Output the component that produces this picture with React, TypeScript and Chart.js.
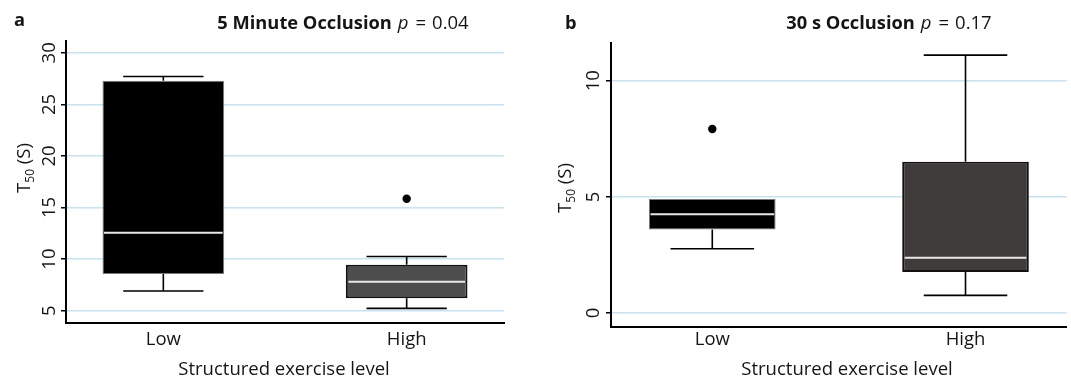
import { useEffect, useRef } from 'react';
import { Chart, registerables } from 'chart.js';

Chart.register(...registerables);

const FAM = "'Open Sans', 'Noto Sans', sans-serif";
const INK = '#151515';

// ---- data ----
const categories = ['Low', 'High'];
const positions = [1, 2];

// Panel a: 5 Minute Occlusion
const occ5Q1 = [8.55, 6.2];
const occ5Q3 = [27.3, 9.45];
const occ5Median = [12.55, 7.8];
const occ5WhiskerLow = [6.9, 5.22];
const occ5WhiskerHigh = [27.7, 10.25];
const occ5OutlierPos = [2];
const occ5OutlierVal = [15.85];
const occ5Ticks = [5, 10, 15, 20, 25, 30];

// Panel b: 30 s Occlusion
const occ30Q1 = [3.6, 1.77];
const occ30Q3 = [4.91, 6.51];
const occ30Median = [4.25, 2.38];
const occ30WhiskerLow = [2.77, 0.76];
const occ30WhiskerHigh = [4.91, 11.1];
const occ30OutlierPos = [1];
const occ30OutlierVal = [7.92];
const occ30Ticks = [0, 5, 10];

const X_TITLE = 'Structured exercise level';

const CAP_HALF = 0.165;
const BOX_HALF = 0.25;
const FS = 18.5;

type Panel = {
  letter: string;
  titleBold: string;
  pValue: string;
  q1: number[];
  q3: number[];
  median: number[];
  wLow: number[];
  wHigh: number[];
  outPos: number[];
  outVal: number[];
  ticks: number[];
  fills: string[];
  borders: string[];
  borderWidths: number[];
  yMin: number;
  yMax: number;
  canvasLeft: number;
  canvasWidth: number;
  padTop: number;
  padRight: number;
  yAxisWidth: number;
  xAxisHeight: number;
  xTickPad: number;
  yTickPad: number;
  titleCx: number;
  titleBase: number;
  letterX: number;
  letterBase: number;
  yTitleX: number;
  yTitleY: number;
  xTitleCx: number;
  xTitleBase: number;
};

const panels: Panel[] = [
  {
    letter: 'a',
    titleBold: '5 Minute Occlusion',
    pValue: '0.04',
    q1: occ5Q1,
    q3: occ5Q3,
    median: occ5Median,
    wLow: occ5WhiskerLow,
    wHigh: occ5WhiskerHigh,
    outPos: occ5OutlierPos,
    outVal: occ5OutlierVal,
    ticks: occ5Ticks,
    fills: ['#000000', '#4d4d4d'],
    borders: ['#7a7a7a', '#111111'],
    borderWidths: [1, 2],
    yMin: 3.8,
    yMax: 31.15,
    canvasLeft: 0,
    canvasWidth: 540,
    padTop: 41,
    padRight: 36,
    yAxisWidth: 66,
    xAxisHeight: 55,
    xTickPad: 5.5,
    yTickPad: 1,
    titleCx: 343,
    titleBase: 29,
    letterX: 14,
    letterBase: 26,
    yTitleX: 29.5,
    yTitleY: 168,
    xTitleCx: 284,
    xTitleBase: 375,
  },
  {
    letter: 'b',
    titleBold: '30 s Occlusion',
    pValue: '0.17',
    q1: occ30Q1,
    q3: occ30Q3,
    median: occ30Median,
    wLow: occ30WhiskerLow,
    wHigh: occ30WhiskerHigh,
    outPos: occ30OutlierPos,
    outVal: occ30OutlierVal,
    ticks: occ30Ticks,
    fills: ['#000000', '#3e3b3a'],
    borders: ['#7a7a7a', '#111111'],
    borderWidths: [1, 2],
    yMin: -0.6,
    yMax: 11.62,
    canvasLeft: 540,
    canvasWidth: 531,
    padTop: 43,
    padRight: 4,
    yAxisWidth: 71,
    xAxisHeight: 51,
    xTickPad: 1.5,
    yTickPad: 2,
    titleCx: 349,
    titleBase: 28.5,
    letterX: 25,
    letterBase: 29,
    yTitleX: 30.7,
    yTitleY: 188,
    xTitleCx: 307,
    xTitleBase: 375,
  },
];

function drawTitle(ctx: CanvasRenderingContext2D, p: Panel) {
  ctx.save();
  ctx.fillStyle = INK;
  ctx.textBaseline = 'alphabetic';
  ctx.textAlign = 'left';
  const fb = `bold 18.3px ${FAM}`;
  const fi = `italic 18.5px ${FAM}`;
  const fr = `18.5px ${FAM}`;
  ctx.font = fb;
  const wb = ctx.measureText(p.titleBold).width;
  ctx.font = fi;
  const wp = ctx.measureText('p').width;
  ctx.font = fr;
  const we = ctx.measureText('=').width;
  const wn = ctx.measureText(p.pValue).width;
  const g1 = 6, g2 = 7, g3 = 6;
  const total = wb + g1 + wp + g2 + we + g3 + wn;
  let x = p.titleCx - total / 2;
  ctx.font = fb;
  ctx.fillText(p.titleBold, x, p.titleBase);
  x += wb + g1;
  ctx.font = fi;
  ctx.fillText('p', x, p.titleBase);
  x += wp + g2;
  ctx.font = fr;
  ctx.fillText('=', x, p.titleBase);
  x += we + g3;
  ctx.fillText(p.pValue, x, p.titleBase);
  ctx.font = fb;
  ctx.fillText(p.letter, p.letterX, p.letterBase);
  // x-axis title
  ctx.font = `${FS}px ${FAM}`;
  ctx.textAlign = 'center';
  ctx.fillText(X_TITLE, p.xTitleCx, p.xTitleBase);
  ctx.restore();
}

function drawYTitle(ctx: CanvasRenderingContext2D, p: Panel) {
  ctx.save();
  ctx.fillStyle = INK;
  ctx.translate(p.yTitleX, p.yTitleY);
  ctx.rotate(-Math.PI / 2);
  ctx.textBaseline = 'alphabetic';
  ctx.textAlign = 'left';
  const fm = `${FS}px ${FAM}`;
  const fs = `12px ${FAM}`;
  ctx.font = fm;
  const wT = ctx.measureText('T').width;
  const wS = ctx.measureText(' (S)').width;
  ctx.font = fs;
  const w50 = ctx.measureText('50').width;
  let x = -(wT + w50 + wS) / 2;
  ctx.font = fm;
  ctx.fillText('T', x, 0);
  x += wT;
  ctx.font = fs;
  ctx.fillText('50', x, 4);
  x += w50;
  ctx.font = fm;
  ctx.fillText(' (S)', x, 0);
  ctx.restore();
}

function makePlugin(p: Panel) {
  return {
    id: 'boxExtras',
    beforeDatasetsDraw(chart: any) {
      const ctx: CanvasRenderingContext2D = chart.ctx;
      const xs = chart.scales.x;
      const ys = chart.scales.y;
      ctx.save();
      ctx.strokeStyle = '#000';
      ctx.lineWidth = 1.6;
      const seg = (cx: number, half: number, from: number, to: number) => {
        if (from === to) return;
        const y0 = ys.getPixelForValue(from);
        const y1 = ys.getPixelForValue(to);
        ctx.beginPath();
        ctx.moveTo(cx, y0);
        ctx.lineTo(cx, y1);
        ctx.moveTo(cx - half, y1);
        ctx.lineTo(cx + half, y1);
        ctx.stroke();
      };
      p.q1.forEach((_, i) => {
        const cx = xs.getPixelForValue(positions[i]);
        const half = xs.getPixelForValue(positions[i] + CAP_HALF) - cx;
        seg(cx, half, p.q3[i], p.wHigh[i]);
        seg(cx, half, p.q1[i], p.wLow[i]);
      });
      ctx.restore();
    },
    afterDatasetsDraw(chart: any) {
      const ctx: CanvasRenderingContext2D = chart.ctx;
      const xs = chart.scales.x;
      const ys = chart.scales.y;
      ctx.save();
      ctx.strokeStyle = '#e8e8e8';
      ctx.lineWidth = 2;
      p.median.forEach((m, i) => {
        const cx = xs.getPixelForValue(positions[i]);
        const half = xs.getPixelForValue(positions[i] + BOX_HALF) - cx;
        const inset = p.borderWidths[i] + 0.5;
        const y = ys.getPixelForValue(m);
        ctx.beginPath();
        ctx.moveTo(cx - half + inset, y);
        ctx.lineTo(cx + half - inset, y);
        ctx.stroke();
      });
      ctx.restore();
    },
    afterDraw(chart: any) {
      const ctx: CanvasRenderingContext2D = chart.ctx;
      drawTitle(ctx, p);
      drawYTitle(ctx, p);
    },
  };
}

function BoxPanel({ p }: { p: Panel }) {
  const ref = useRef<HTMLCanvasElement | null>(null);
  useEffect(() => {
    if (!ref.current) return;
    const chart = new Chart(ref.current, {
      type: 'bar',
      data: {
        datasets: [
          {
            type: 'bar',
            data: positions.map((x, i) => ({ x, y: [p.q1[i], p.q3[i]] })) as any,
            backgroundColor: p.fills,
            borderColor: p.borders,
            borderWidth: p.borderWidths,
            borderSkipped: false,
            inflateAmount: 0,
            barPercentage: 0.5,
            categoryPercentage: 1,
            order: 2,
          } as any,
          {
            type: 'scatter',
            data: p.outPos.map((x, i) => ({ x, y: p.outVal[i] })),
            pointRadius: 4.2,
            pointBackgroundColor: '#000',
            pointBorderWidth: 0,
            backgroundColor: '#000',
            showLine: false,
            order: 1,
          } as any,
        ],
      },
      options: {
        animation: false,
        responsive: false,
        events: [],
        layout: { padding: { top: p.padTop, right: p.padRight, bottom: 0, left: 0 } },
        plugins: { legend: { display: false }, tooltip: { enabled: false } },
        scales: {
          x: {
            type: 'linear',
            offset: false,
            bounds: 'data',
            min: 0.6,
            max: 2.4,
            afterBuildTicks: (axis: any) => {
              axis.ticks = positions.map((v) => ({ value: v }));
            },
            afterFit: (axis: any) => {
              axis.height = p.xAxisHeight;
            },
            grid: { display: false, drawTicks: false, offset: false },
            border: { display: true, color: '#000', width: 2 },
            ticks: {
              padding: p.xTickPad,
              color: INK,
              font: { family: FAM, size: FS },
              maxRotation: 0,
              callback: (v: any) => categories[Math.round(Number(v)) - 1] ?? '',
            },
            title: { display: false },
          },
          y: {
            type: 'linear',
            min: p.yMin,
            max: p.yMax,
            afterBuildTicks: (axis: any) => {
              axis.ticks = p.ticks.map((v) => ({ value: v }));
            },
            afterFit: (axis: any) => {
              axis.width = p.yAxisWidth;
            },
            grid: {
              color: '#c4e3f3',
              lineWidth: 1.5,
              tickColor: '#000',
              tickLength: 5,
              tickWidth: 1.5,
              drawTicks: true,
            },
            border: { display: true, color: '#000', width: 2 },
            ticks: {
              padding: p.yTickPad,
              color: INK,
              font: { family: FAM, size: FS },
              minRotation: 90,
              maxRotation: 90,
              crossAlign: 'center',
              autoSkip: false,
              callback: (v: any) => String(v),
            },
          },
        },
      } as any,
      plugins: [makePlugin(p)],
    });
    return () => chart.destroy();
  }, [p]);
  return (
    <canvas
      ref={ref}
      width={p.canvasWidth}
      height={378}
      style={{ position: 'absolute', left: p.canvasLeft, top: 0, width: p.canvasWidth, height: 378 }}
    />
  );
}

export default function App() {
  useEffect(() => {
    document.body.style.margin = '0';
  }, []);
  return (
    <div style={{ position: 'absolute', left: 0, top: 0, width: 1071, height: 378, background: '#fff', overflow: 'hidden' }}>
      {panels.map((p) => (
        <BoxPanel key={p.letter} p={p} />
      ))}
    </div>
  );
}
